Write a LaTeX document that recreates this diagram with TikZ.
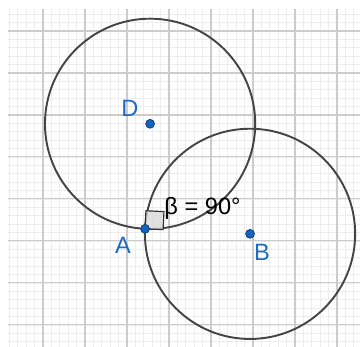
\documentclass[tikz,border=0pt]{standalone}
\usepackage{fontspec}
\setmainfont{Liberation Sans}
\usepackage{tikz}
\usetikzlibrary{calc}
\definecolor{ptblue}{HTML}{1565C0}
\definecolor{ptlabel}{HTML}{1E6BC2}
\definecolor{circgray}{HTML}{444444}

\begin{document}
\begin{tikzpicture}[font=\fontsize{16}{19}\selectfont,
    minorgrid/.style={draw=black!7,line width=0.5pt},
    majorgrid/.style={draw=black!20,line width=0.7pt},
    circ/.style={draw=circgray,line width=1.3pt},
    pt/.style={circle,fill=ptblue,draw=ptblue!60!black,line width=0.5pt,inner sep=0pt,minimum size=6pt},
    ptlbl/.style={text=ptlabel,inner sep=0pt},
    rightmark/.style={fill=black!15,fill opacity=0.8,draw=black!80,line width=0.8pt}]
    \useasboundingbox (-0.024,0.476) rectangle (8.548,8.738);
    % background grid
    \begin{scope}
        \clip (0.167,0.476) rectangle (8.548,8.5);
        \draw[minorgrid,step=0.2] (0,0) grid (9,9);
        \draw[majorgrid,step=1] (0,0) grid (9,9);
    \end{scope}
    % points and circles
    \coordinate (A) at (3.43,3.29);
    \coordinate (D) at ($(A)+(0.12,2.5)$);
    \coordinate (B) at ($(A)+(2.5,-0.12)$);
    \draw[circ] (D) circle (2.503);
    \draw[circ] (B) circle (2.503);
    % right angle at A
    \draw[rightmark] (A) -- ($(A)!0.43cm!(B)$) -- ($(A)!0.43cm!(B)+(A)!0.43cm!(D)-(A)$) -- ($(A)!0.43cm!(D)$) -- cycle;
    \node[pt] (ptA) at (A) {};
    \node[pt] (ptD) at (D) {};
    \node[pt] (ptB) at (B) {};
    \node[ptlbl] (labD) at (3.071,6.167) {D};
    \node[ptlbl] (labA) at (2.905,2.905) {A};
    \node[ptlbl] (labB) at (6.214,2.738) {B};
    \node[inner sep=0pt] (beta) at (4.8,3.78) {β = 90°};
\end{tikzpicture}
\end{document}
